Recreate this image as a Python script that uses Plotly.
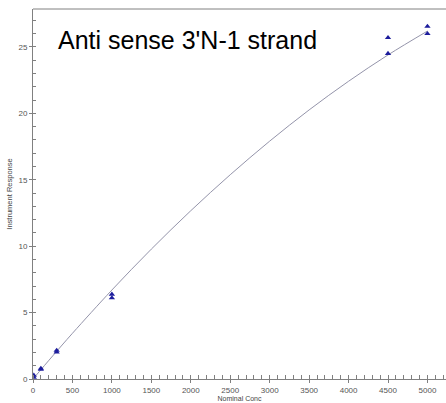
import plotly.graph_objects as go

# Calibration standards
conc = [10, 10, 100, 100, 300, 300, 1000, 1000, 4500, 4500, 5000, 5000]
response = [0.12, 0.28, 0.72, 0.80, 2.02, 2.15, 6.10, 6.38, 24.5, 25.7, 26.0, 26.55]

# Fitted calibration curve
curve_x = [0, 250, 500, 1000, 1500, 2000, 2500, 3000, 3500, 4000, 4500, 5000]
curve_y = [0.0, 1.74, 3.44, 6.70, 9.78, 12.67, 15.38, 17.91, 20.26, 22.42, 24.40, 26.20]

x_ticks = [0, 500, 1000, 1500, 2000, 2500, 3000, 3500, 4000, 4500, 5000]
y_ticks = [0, 5, 10, 15, 20, 25]

title_text = "Anti sense 3'N-1 strand"

fig = go.Figure()
fig.add_trace(go.Scatter(
    x=curve_x, y=curve_y, mode="lines",
    line=dict(color="#9494aa", width=1, shape="spline"),
    showlegend=False, hoverinfo="skip"))
fig.add_trace(go.Scatter(
    x=conc, y=response, mode="markers",
    marker=dict(symbol="triangle-up", size=5.5, color="#1c1c9c"),
    showlegend=False))

axis_common = dict(
    showgrid=False, zeroline=False, showline=True, linecolor="#808080", linewidth=1,
    ticks="outside", ticklen=3, tickcolor="#808080",
    tickfont=dict(family="Arial, Liberation Sans", size=8, color="#555555"),
)

fig.update_xaxes(
    range=[0, 5235], tickmode="array", tickvals=x_ticks,
    minor=dict(ticks="inside", dtick=100, ticklen=4, tickcolor="#808080"),
    title=dict(text="Nominal Conc", font=dict(family="Arial, Liberation Sans", size=7, color="#444444"), standoff=2),
    **axis_common)
fig.update_yaxes(
    range=[0, 27.86], tickmode="array", tickvals=y_ticks,
    minor=dict(ticks="inside", dtick=1, ticklen=3, tickcolor="#808080"),
    title=dict(text="Instrument Response", font=dict(family="Arial, Liberation Sans", size=7.5, color="#444444"), standoff=4),
    **axis_common)

fig.add_shape(type="line", xref="paper", yref="paper", x0=0, x1=1, y0=1, y1=1,
              line=dict(color="#808080", width=1))

fig.add_annotation(text=title_text, xref="paper", yref="paper", x=0.056, y=0.915,
                   xanchor="left", yanchor="middle", showarrow=False,
                   font=dict(family="Arial, Liberation Sans", size=25, color="#000000"))

fig.update_layout(
    width=446, height=403,
    margin=dict(l=33, r=0, t=9, b=24),
    plot_bgcolor="white", paper_bgcolor="white",
)

fig.write_html("out.html")
